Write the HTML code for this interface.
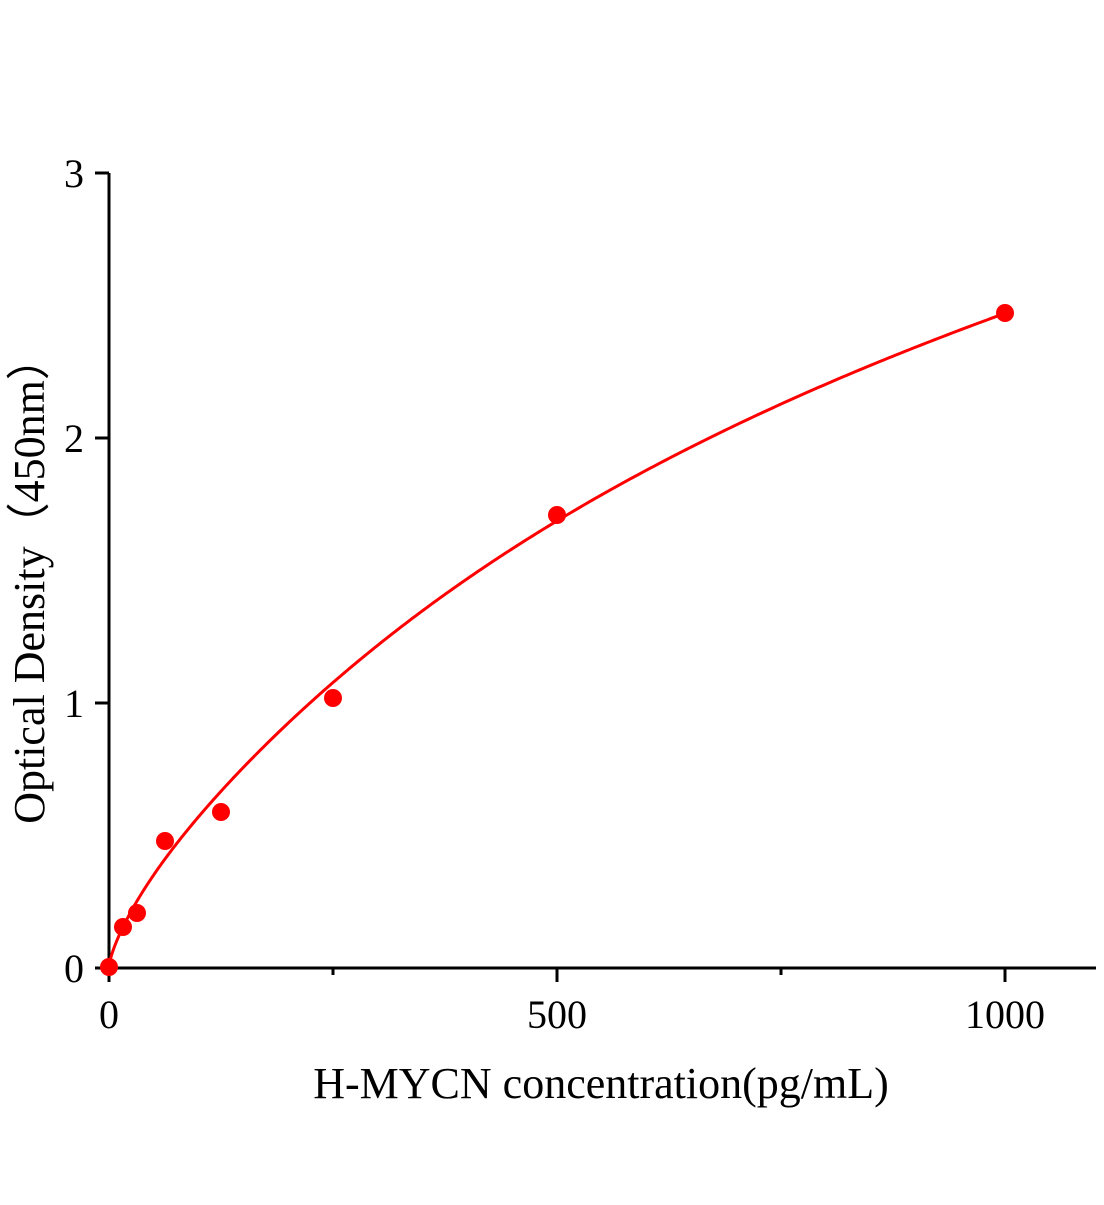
<!DOCTYPE html>
<html><head><style>body{margin:0;background:#fff}</style></head><body>
<svg width="1104" height="1200" xmlns="http://www.w3.org/2000/svg" font-family="Liberation Serif, serif">
<rect width="1104" height="1200" fill="#fff"/>
<g stroke="#000" stroke-width="3" fill="none">
<line x1="109" y1="173" x2="109" y2="969"/>
<line x1="108" y1="968" x2="1096" y2="968"/>
<line x1="95" y1="173" x2="109" y2="173"/>
<line x1="95" y1="438" x2="109" y2="438"/>
<line x1="95" y1="703" x2="109" y2="703"/>
<line x1="95" y1="968" x2="109" y2="968"/>
<line x1="109" y1="968" x2="109" y2="982"/>
<line x1="557" y1="968" x2="557" y2="982"/>
<line x1="1005" y1="968" x2="1005" y2="982"/>
<line x1="333" y1="968" x2="333" y2="975"/>
<line x1="781" y1="968" x2="781" y2="975"/>
</g>
<g font-size="40" fill="#000" text-anchor="end">
<text x="84" y="187">3</text><text x="84" y="452">2</text><text x="84" y="717">1</text><text x="84" y="982">0</text>
</g>
<g font-size="40" fill="#000" text-anchor="middle">
<text x="109" y="1028">0</text><text x="557" y="1028">500</text><text x="1005" y="1028">1000</text>
<text x="601" y="1098" font-size="44">H-MYCN concentration(pg/mL)</text>
<text transform="translate(44,580) rotate(-90)" font-size="44">Optical Density（450nm）</text>
</g>
<path id="c" stroke="#f00" stroke-width="3" fill="none"/>
<g fill="#f00">
<circle cx="109" cy="967" r="9"/><circle cx="123" cy="927" r="9"/><circle cx="137" cy="913" r="9"/>
<circle cx="165" cy="841" r="9"/><circle cx="221" cy="812" r="9"/><circle cx="333" cy="698" r="9"/>
<circle cx="557" cy="515" r="9"/><circle cx="1005" cy="313" r="9"/>
</g>
</svg>
<script>
function f(x){return 1.535*Math.log(1+x/250)+0.019*Math.sqrt(x)*Math.exp(-x/80);}
var d="";
for(var i=0;i<=400;i++){var x=1000*Math.pow(i/400,2);
 d+=(i?" L":"M")+(109+x*0.896).toFixed(2)+","+(968-f(x)*265).toFixed(2);}
document.getElementById("c").setAttribute("d",d);
</script>
</body></html>
